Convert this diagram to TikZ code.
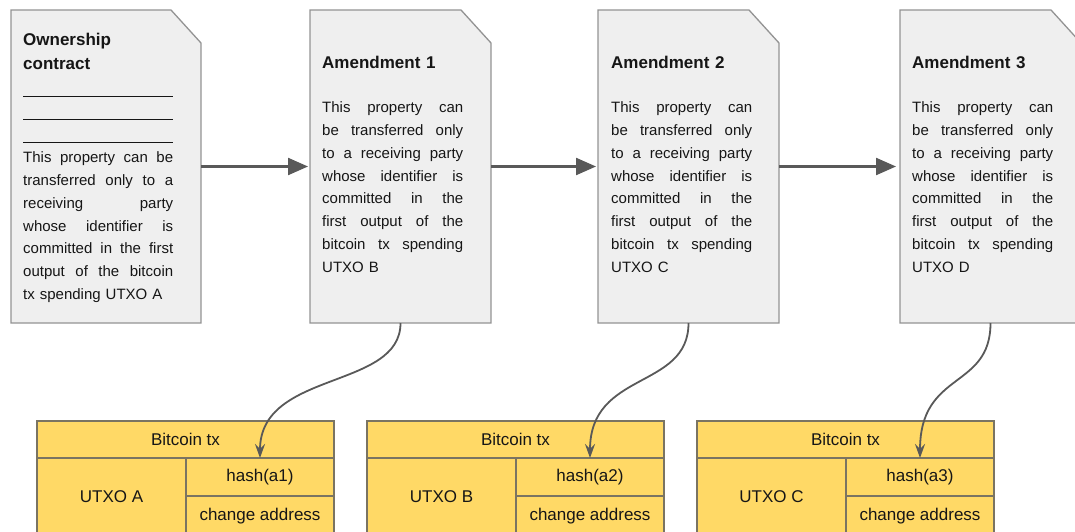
\documentclass[tikz,border=0pt]{standalone}
\usepackage{fontspec}
\setmainfont{Liberation Sans}
\usetikzlibrary{arrows.meta}
\definecolor{docfill}{HTML}{EFEFEF}
\definecolor{docline}{HTML}{939393}
\definecolor{arrowc}{HTML}{595959}
\definecolor{txfill}{HTML}{FFD966}
\definecolor{txline}{HTML}{7A7462}
\definecolor{ink}{HTML}{161616}
\newcommand\jline[1]{\noindent\hbox to\linewidth{\spaceskip=0pt\xspaceskip=0pt #1}\par}
\newcommand\lline[1]{\noindent #1\par}
\newcommand\ruleline{\noindent\rule[-3pt]{\linewidth}{0.8pt}\par}
\begin{document}
\begin{tikzpicture}[x=1pt,y=-1pt,
  docbox/.style={minimum height=313pt, inner sep=0pt, outer sep=0pt},
  docshape/.style={draw=docline, fill=docfill, line width=1.3pt},
  title/.style={anchor=base west, inner sep=0pt, text width=150pt, align=left, text=ink,
    font=\bfseries\fontsize{17}{24.5}\selectfont},
  body/.style={anchor=base west, inner sep=0pt, text width=141pt, align=left, text=ink,
    font=\fontsize{15}{22.85}\selectfont},
  flow/.style={-{Triangle[length=20pt,width=17pt]}, line width=2.3pt, draw=arrowc},
  link/.style={-{Stealth[length=14pt,width=10pt,inset=5pt]}, line width=1.8pt, draw=arrowc},
  cell/.style={draw=txline, fill=txfill, line width=1.3pt, inner sep=0pt, outer sep=0pt,
    anchor=north west, text=ink, font=\fontsize{17}{20}\selectfont}]
\useasboundingbox (0,0) rectangle (1075,532);
\clip (0,0) rectangle (1075,532);

% documents
\node[docbox, minimum width=190pt] (d1) at (106,166.5) {};
\node[docbox, minimum width=181pt] (d2) at (400.5,166.5) {};
\node[docbox, minimum width=181pt] (d3) at (688.5,166.5) {};
\node[docbox, minimum width=181pt] (d4) at (990.5,166.5) {};
\foreach \n in {d1,d2,d3,d4}
  \draw[docshape] (\n.north west) -- ([xshift=-30pt]\n.north east)
    -- ([yshift=-33pt]\n.north east) -- (\n.south east) -- (\n.south west) -- cycle;

\node[title] (d1t) at (23,45.5) {Ownership\\contract};
\node[body, text width=150pt] (d1b) at (23,94) {%
\ruleline\ruleline\ruleline
\jline{This property can be}
\jline{transferred only to a}
\jline{receiving party}
\jline{whose identifier is}
\jline{committed in the first}
\jline{output of the bitcoin}
\lline{tx spending UTXO A}};

\node[title] (d2t) at (322,68.6) {Amendment 1};
\node[body] (d2b) at (322,112.5) {%
\jline{This property can}
\jline{be transferred only}
\jline{to a receiving party}
\jline{whose identifier is}
\jline{committed in the}
\jline{first output of the}
\jline{bitcoin tx spending}
\lline{UTXO B}};

\node[title] (d3t) at (611,68.6) {Amendment 2};
\node[body] (d3b) at (611,112.5) {%
\jline{This property can}
\jline{be transferred only}
\jline{to a receiving party}
\jline{whose identifier is}
\jline{committed in the}
\jline{first output of the}
\jline{bitcoin tx spending}
\lline{UTXO C}};

\node[title] (d4t) at (912,68.6) {Amendment 3};
\node[body] (d4b) at (912,112.5) {%
\jline{This property can}
\jline{be transferred only}
\jline{to a receiving party}
\jline{whose identifier is}
\jline{committed in the}
\jline{first output of the}
\jline{bitcoin tx spending}
\lline{UTXO D}};

% flow arrows
\draw[flow] (d1.east) -- ([xshift=-2pt]d2.west);
\draw[flow] (d2.east) -- ([xshift=-2pt]d3.west);
\draw[flow] (d3.east) -- ([xshift=-4pt]d4.west);

% bitcoin tx tables
\node[cell, minimum width=297pt, minimum height=37pt] (t1) at (37,421) {Bitcoin tx};
\node[cell, minimum width=149pt, minimum height=78pt] (u1) at (37,458) {UTXO A};
\node[cell, minimum width=148pt, minimum height=38pt] (h1) at (186,458) {hash(a1)};
\node[cell, minimum width=148pt, minimum height=40pt] (c1) at (186,496) {change address};

\node[cell, minimum width=297pt, minimum height=37pt] (t2) at (367,421) {Bitcoin tx};
\node[cell, minimum width=149pt, minimum height=78pt] (u2) at (367,458) {UTXO B};
\node[cell, minimum width=148pt, minimum height=38pt] (h2) at (516,458) {hash(a2)};
\node[cell, minimum width=148pt, minimum height=40pt] (c2) at (516,496) {change address};

\node[cell, minimum width=297pt, minimum height=37pt] (t3) at (697,421) {Bitcoin tx};
\node[cell, minimum width=149pt, minimum height=78pt] (u3) at (697,458) {UTXO C};
\node[cell, minimum width=148pt, minimum height=38pt] (h3) at (846,458) {hash(a3)};
\node[cell, minimum width=148pt, minimum height=40pt] (c3) at (846,496) {change address};

% links
\draw[link] (d2.south) .. controls +(0,67) and +(0,-88) .. (h1.north);
\draw[link] (d3.south) .. controls +(0,67) and +(0,-88) .. (h2.north);
\draw[link] (d4.south) .. controls +(0,67) and +(0,-88) .. (h3.north);
\end{tikzpicture}
\end{document}
